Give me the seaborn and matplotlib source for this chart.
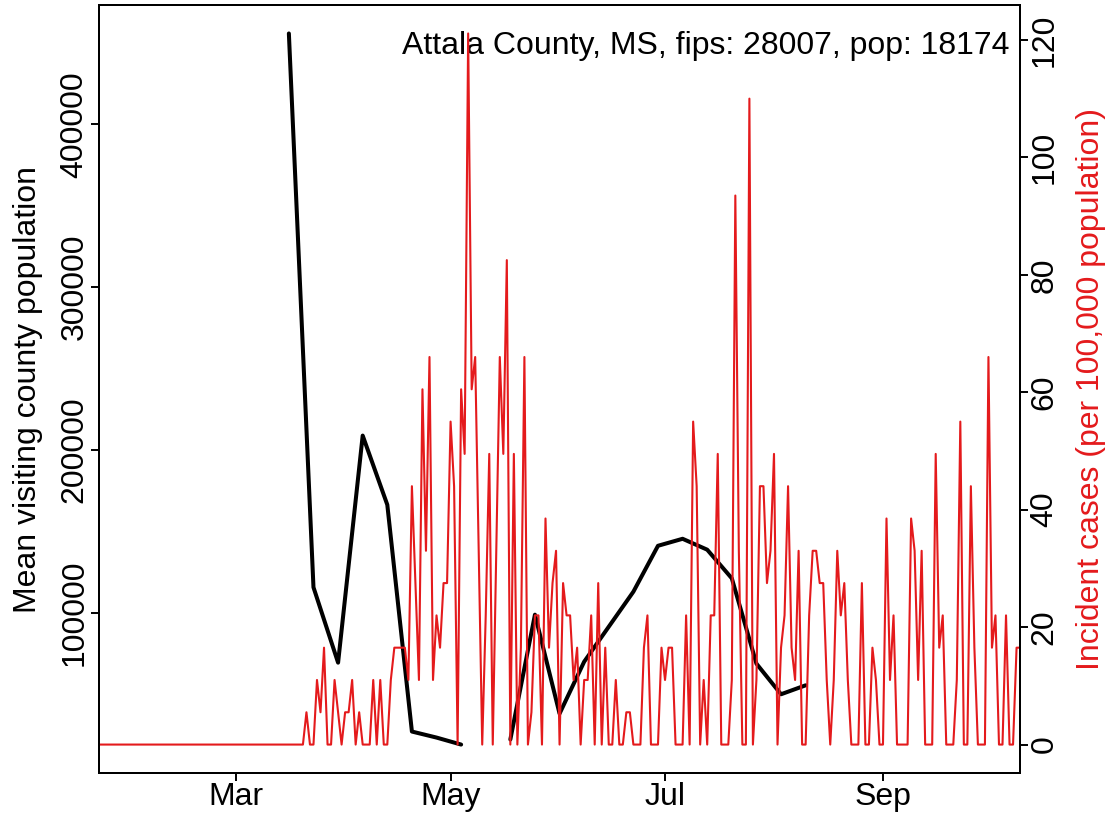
import numpy as np
import pandas as pd
import matplotlib.pyplot as plt
import matplotlib.dates as mdates
import seaborn as sns

sns.set_theme(style="ticks")
plt.rcParams['font.family'] = ['Liberation Sans', 'DejaVu Sans']
plt.rcParams.update({
    'text.color': 'black',
    'axes.labelcolor': 'black',
    'xtick.color': 'black',
    'ytick.color': 'black',
    'axes.edgecolor': 'black',
})

RED = '#E41A1C'
county_title = "Attala County, MS, fips: 28007, pop: 18174"

# weekly mean visiting county population (NaN = missing week)
visit_dates = pd.date_range("2020-03-16", periods=22, freq="7D")
visit_pop = [455800, 115600, 69300, 208800, 166300, 27000, 23300, 19000,
             np.nan, 22100, 98800, 38000, 69900, 91400, 112900, 141100,
             145400, 138700, 121100, 68700, 49900, 55400]

# daily incident cases per 100,000, 2020-01-22 .. 2020-10-10
inc_jan = [0, 0, 0, 0, 0, 0, 0, 0, 0, 0]
inc_feb = [0, 0, 0, 0, 0, 0, 0, 0, 0, 0, 0, 0, 0, 0, 0,
           0, 0, 0, 0, 0, 0, 0, 0, 0, 0, 0, 0, 0, 0]
inc_mar = [0, 0, 0, 0, 0, 0, 0, 0, 0, 0, 0, 0, 0, 0, 0, 0, 0, 0, 0,
           0, 5.5, 0, 0, 11.0, 5.5, 16.5, 0, 0, 11.0, 5.5, 0]
inc_apr = [5.5, 5.5, 11.0, 0, 5.5, 0, 0, 0, 11.0, 0,
           11.0, 0, 0, 11.0, 16.5, 16.5, 16.5, 16.5, 11.0, 44.0,
           27.5, 11.0, 60.5, 33.0, 66.0, 11.0, 22.0, 16.5, 27.5, 27.5]
inc_may = [55.0, 44.0, 0, 60.5, 49.5, 121.1, 60.5, 66.0, 33.0, 0,
           22.0, 49.5, 0, 33.0, 66.0, 49.5, 82.5, 0, 49.5, 0,
           16.5, 66.0, 0, 5.5, 22.0, 22.0, 0, 38.5, 16.5, 27.5, 33.0]
inc_jun = [0, 27.5, 22.0, 22.0, 11.0, 16.5, 0, 11.0, 11.0, 22.0,
           0, 27.5, 0, 16.5, 0, 0, 11.0, 0, 0, 5.5,
           5.5, 0, 0, 0, 16.5, 22.0, 0, 0, 0, 16.5]
inc_jul = [11.0, 16.5, 16.5, 0, 0, 0, 22.0, 0, 55.0, 44.0,
           0, 11.0, 0, 22.0, 22.0, 49.5, 0, 0, 0, 11.0,
           93.5, 33.0, 0, 0, 110.0, 0, 11.0, 44.0, 44.0, 27.5, 33.0]
inc_aug = [49.5, 0, 16.5, 22.0, 44.0, 16.5, 11.0, 33.0, 0, 0,
           22.0, 33.0, 33.0, 27.5, 27.5, 11.0, 0, 11.0, 33.0, 22.0,
           27.5, 11.0, 0, 0, 0, 27.5, 0, 0, 16.5, 11.0, 0]
inc_sep = [0, 38.5, 11.0, 22.0, 0, 0, 0, 0, 38.5, 33.0,
           11.0, 33.0, 0, 0, 0, 49.5, 16.5, 22.0, 0, 0,
           0, 11.0, 55.0, 0, 0, 44.0, 16.5, 0, 0, 0]
inc_oct = [66.0, 16.5, 22.0, 0, 0, 22.0, 0, 0, 16.5, 16.5]

incidence = (inc_jan + inc_feb + inc_mar + inc_apr + inc_may + inc_jun
             + inc_jul + inc_aug + inc_sep + inc_oct)
case_dates = pd.date_range("2020-01-22", periods=len(incidence), freq="D")

visit_df = pd.DataFrame({'date': visit_dates, 'pop': visit_pop})
visit_df['seg'] = visit_df['pop'].isna().cumsum()
visit_df = visit_df.dropna()
case_df = pd.DataFrame({'date': case_dates, 'inc': incidence})

fig = plt.figure(figsize=(11.19, 8.22), dpi=100)
ax = fig.add_axes([0.0885, 0.0596, 0.8231, 0.9343])

sns.lineplot(data=visit_df, x='date', y='pop', units='seg', estimator=None,
             color='black', lw=2.9, ax=ax)
ax2 = ax.twinx()
sns.lineplot(data=case_df, x='date', y='inc', color=RED, lw=1.5, ax=ax2)

# R-style 4% padding on y, no padding on x
lo, hi = visit_df['pop'].min(), visit_df['pop'].max()
ax.set_ylim(lo - 0.04 * (hi - lo), hi + 0.04 * (hi - lo))
lo, hi = case_df['inc'].min(), case_df['inc'].max()
ax2.set_ylim(lo - 0.04 * (hi - lo), hi + 0.04 * (hi - lo))
ax.set_xlim(case_dates[0], case_dates[-1])

ax.xaxis.set_major_locator(mdates.MonthLocator(bymonth=[3, 5, 7, 9]))
ax.xaxis.set_major_formatter(mdates.DateFormatter('%b'))

left_ticks = [100000, 200000, 300000, 400000]
ax.set_yticks(left_ticks, labels=[str(t) for t in left_ticks], rotation=90, va='center')
right_ticks = [0, 20, 40, 60, 80, 100, 120]
ax2.set_yticks(right_ticks, labels=[str(t) for t in right_ticks], rotation=90, va='center')

for a in (ax, ax2):
    a.tick_params(axis='both', direction='out', length=5.8, width=1.4,
                  labelsize=23, colors='black', pad=1)
    a.set_xlabel('')
    for s in a.spines.values():
        s.set_linewidth(1.4)
        s.set_color('black')
    a.grid(False)

ax.set_ylabel('Mean visiting county population', fontsize=23, labelpad=12,
              color='black')
ax2.set_ylabel('Incident cases (per 100,000 population)', fontsize=23,
               color=RED, labelpad=12)

ax.text(0.988, 0.9466, county_title, transform=ax.transAxes,
        ha='right', va='center', fontsize=23, color='black')

fig.savefig('out.png', dpi=100)
